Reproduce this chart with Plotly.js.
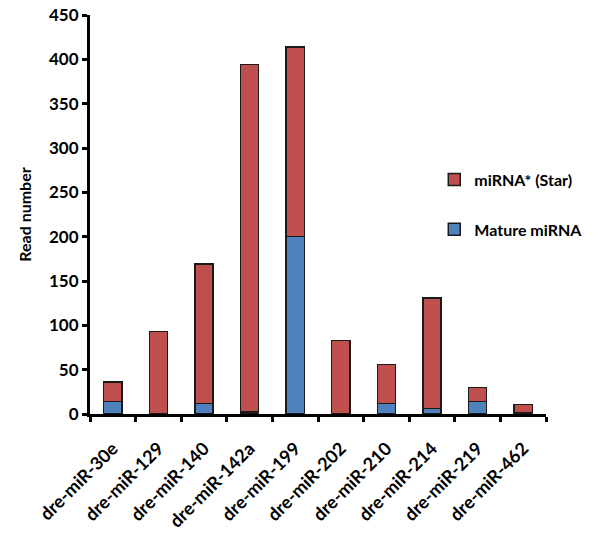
<!DOCTYPE html>
<html>
<head>
<meta charset="utf-8">
<script src="https://cdn.plot.ly/plotly-3.0.1.min.js"></script>
<style>html,body{margin:0;padding:0;background:#fff;}</style>
</head>
<body>
<div id="chart" style="width:600px;height:538px;"></div>
<script>
var categories = ["dre-miR-30e","dre-miR-129","dre-miR-140","dre-miR-142a","dre-miR-199","dre-miR-202","dre-miR-210","dre-miR-214","dre-miR-219","dre-miR-462"];
var matureValues = [14, 0, 12, 2, 200, 0, 12, 6, 14, 1];
var starValues = [22, 93, 157, 392, 214, 83, 44, 125, 16, 10];
var yTicks = [0, 50, 100, 150, 200, 250, 300, 350, 400, 450];

var fontFam = "Lato, Open Sans, sans-serif";
var traces = [
  {type:'bar', name:'Mature miRNA', x:categories, y:matureValues, legendgroup:'b', legendrank:2,
   marker:{color:'#4F81BD', line:{color:'#1a1a1a', width:1.5}}},
  {type:'bar', name:'miRNA* (Star)', x:categories, y:starValues, legendgroup:'a', legendrank:1,
   marker:{color:'#C0504D', line:{color:'#1a1a1a', width:1.5}}}
];
var layout = {
  width:600, height:538,
  margin:{l:90, r:32, t:15, b:124},
  barmode:'stack', bargap:0.6,
  paper_bgcolor:'#fff', plot_bgcolor:'#fff',
  font:{family:fontFam, color:'#000', size:16},
  showlegend:true,
  legend:{x:0.755, y:0.63, xanchor:'left', yanchor:'top', traceorder:'grouped', tracegroupgap:26,
          itemwidth:30, font:{size:16, family:fontFam, weight:'bold'}, bgcolor:'rgba(0,0,0,0)'},
  xaxis:{type:'category', tickson:'boundaries', ticks:'outside', ticklen:5, tickwidth:3, tickcolor:'#000',
         showline:true, linewidth:3, linecolor:'#000', showgrid:false, zeroline:false,
         tickangle:-45, ticklabelstandoff:14, tickfont:{size:18, family:fontFam, weight:'bold'}},
  yaxis:{range:[0,450], tickvals:yTicks, ticks:'outside', ticklen:5, tickwidth:3, tickcolor:'#000',
         showline:true, linewidth:3, linecolor:'#000', showgrid:false, zeroline:false,
         tickfont:{size:17, family:fontFam, weight:'bold'},
         title:{text:'Read number', font:{size:16, family:fontFam, weight:'bold'}, standoff:14}}
};
Plotly.newPlot('chart', traces, layout, {displayModeBar:false, staticPlot:true});
</script>
</body>
</html>
